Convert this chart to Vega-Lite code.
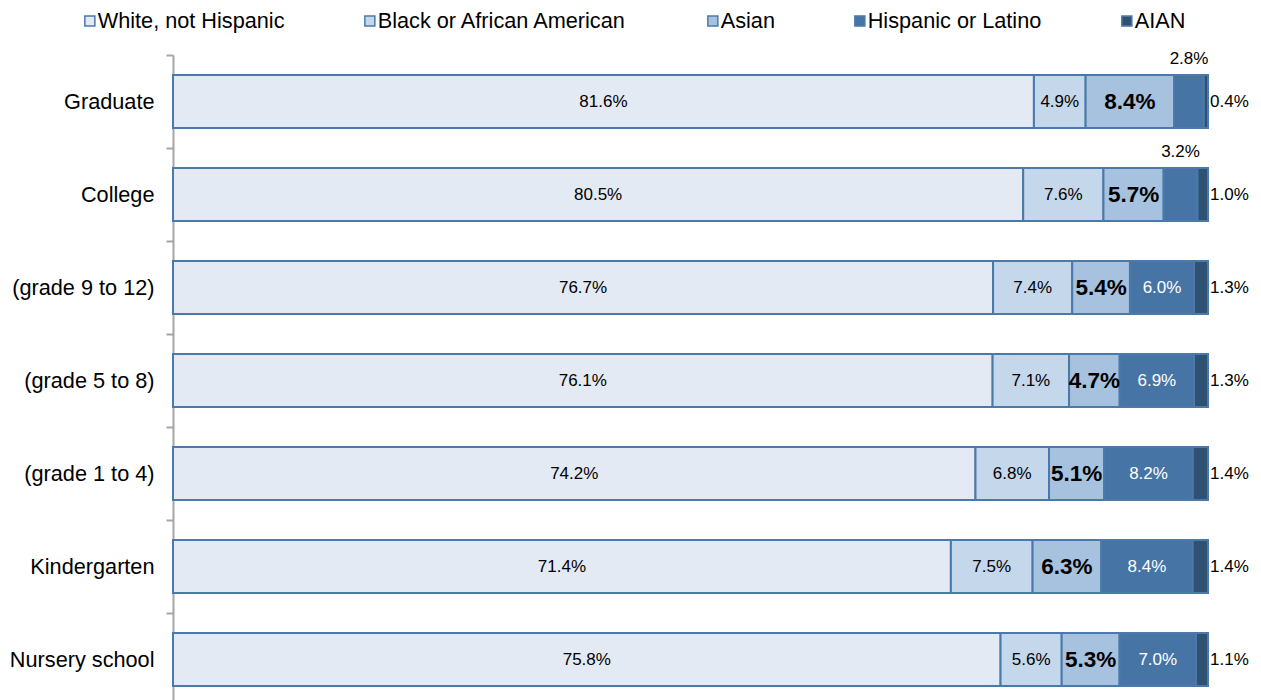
{
  "$schema": "https://vega.github.io/schema/vega-lite/v6.json",
  "autosize": {"type": "none"},
  "padding": {"left": 173, "top": 55, "right": 53, "bottom": 0},
  "width": 1035,
  "height": 645,
  "background": "white",
  "config": {"view": {"stroke": null}, "font": "Liberation Sans"},
  "data": {"values": [
    {"level": "Graduate", "race": "White, not Hispanic", "k": 1, "p": 0.816},
    {"level": "Graduate", "race": "Black or African American", "k": 2, "p": 0.049},
    {"level": "Graduate", "race": "Asian", "k": 3, "p": 0.084},
    {"level": "Graduate", "race": "Hispanic or Latino", "k": 4, "p": 0.028},
    {"level": "Graduate", "race": "AIAN", "k": 5, "p": 0.004},
    {"level": "College", "race": "White, not Hispanic", "k": 1, "p": 0.805},
    {"level": "College", "race": "Black or African American", "k": 2, "p": 0.076},
    {"level": "College", "race": "Asian", "k": 3, "p": 0.057},
    {"level": "College", "race": "Hispanic or Latino", "k": 4, "p": 0.032},
    {"level": "College", "race": "AIAN", "k": 5, "p": 0.010},
    {"level": "(grade 9 to 12)", "race": "White, not Hispanic", "k": 1, "p": 0.767},
    {"level": "(grade 9 to 12)", "race": "Black or African American", "k": 2, "p": 0.074},
    {"level": "(grade 9 to 12)", "race": "Asian", "k": 3, "p": 0.054},
    {"level": "(grade 9 to 12)", "race": "Hispanic or Latino", "k": 4, "p": 0.060},
    {"level": "(grade 9 to 12)", "race": "AIAN", "k": 5, "p": 0.013},
    {"level": "(grade 5 to 8)", "race": "White, not Hispanic", "k": 1, "p": 0.761},
    {"level": "(grade 5 to 8)", "race": "Black or African American", "k": 2, "p": 0.071},
    {"level": "(grade 5 to 8)", "race": "Asian", "k": 3, "p": 0.047},
    {"level": "(grade 5 to 8)", "race": "Hispanic or Latino", "k": 4, "p": 0.069},
    {"level": "(grade 5 to 8)", "race": "AIAN", "k": 5, "p": 0.013},
    {"level": "(grade 1 to 4)", "race": "White, not Hispanic", "k": 1, "p": 0.742},
    {"level": "(grade 1 to 4)", "race": "Black or African American", "k": 2, "p": 0.068},
    {"level": "(grade 1 to 4)", "race": "Asian", "k": 3, "p": 0.051},
    {"level": "(grade 1 to 4)", "race": "Hispanic or Latino", "k": 4, "p": 0.082},
    {"level": "(grade 1 to 4)", "race": "AIAN", "k": 5, "p": 0.014},
    {"level": "Kindergarten", "race": "White, not Hispanic", "k": 1, "p": 0.714},
    {"level": "Kindergarten", "race": "Black or African American", "k": 2, "p": 0.075},
    {"level": "Kindergarten", "race": "Asian", "k": 3, "p": 0.063},
    {"level": "Kindergarten", "race": "Hispanic or Latino", "k": 4, "p": 0.084},
    {"level": "Kindergarten", "race": "AIAN", "k": 5, "p": 0.014},
    {"level": "Nursery school", "race": "White, not Hispanic", "k": 1, "p": 0.758},
    {"level": "Nursery school", "race": "Black or African American", "k": 2, "p": 0.056},
    {"level": "Nursery school", "race": "Asian", "k": 3, "p": 0.053},
    {"level": "Nursery school", "race": "Hispanic or Latino", "k": 4, "p": 0.070},
    {"level": "Nursery school", "race": "AIAN", "k": 5, "p": 0.011}
  ]},
  "encoding": {
    "y": {
      "field": "level", "type": "nominal", "sort": null, "title": null,
      "scale": {"paddingInner": 0, "paddingOuter": 0, "range": [0, 651]},
      "axis": {
        "domainColor": "#A6A6A6", "domainWidth": 2,
        "tickColor": "#A6A6A6", "tickWidth": 2, "tickSize": 7, "tickBand": "extent",
        "labelFontSize": 21.7, "labelColor": "#000000", "labelPadding": 12, "labelFont": "Liberation Sans"
      }
    },
    "x": {"field": "p", "type": "quantitative", "stack": "normalize", "axis": null},
    "order": {"field": "k", "type": "quantitative"}
  },
  "layer": [
    {
      "mark": {"type": "bar", "stroke": "#4A79AA", "strokeWidth": 2, "height": {"band": 0.57}},
      "encoding": {
        "color": {
          "field": "race", "type": "nominal",
          "scale": {
            "domain": ["White, not Hispanic", "Black or African American", "Asian", "Hispanic or Latino", "AIAN"],
            "range": ["#E3EAF4", "#C5D7EA", "#A7C2DE", "#4674A4", "#2F5273"]
          },
          "legend": {
            "orient": "none", "legendX": -94, "legendY": -45, "direction": "horizontal",
            "columns": 5, "columnPadding": 74, "title": null, "padding": 0,
            "symbolType": "square", "symbolSize": 100, "symbolStrokeColor": "#4A79AA", "symbolStrokeWidth": 1.5,
            "labelFontSize": 21.7, "labelFont": "Liberation Sans", "labelColor": "#000000", "labelOffset": -3,
            "labelLimit": 400
          }
        }
      }
    },
    {
      "mark": {"type": "text", "fontSize": 17, "color": "#000000", "baseline": "middle", "align": "center"},
      "encoding": {
        "x": {"field": "p", "type": "quantitative", "stack": "normalize", "bandPosition": 0.5},
        "detail": {"field": "race"},
        "text": {"field": "p", "type": "quantitative", "format": ".1%"},
        "opacity": {"condition": {"test": "datum.k <= 2", "value": 1}, "value": 0}
      }
    },
    {
      "mark": {"type": "text", "fontSize": 22.5, "fontWeight": "bold", "color": "#000000", "baseline": "middle", "align": "center"},
      "encoding": {
        "x": {"field": "p", "type": "quantitative", "stack": "normalize", "bandPosition": 0.5},
        "detail": {"field": "race"},
        "text": {"field": "p", "type": "quantitative", "format": ".1%"},
        "opacity": {"condition": {"test": "datum.k == 3", "value": 1}, "value": 0}
      }
    },
    {
      "mark": {"type": "text", "fontSize": 17, "color": "#FFFFFF", "baseline": "middle", "align": "center"},
      "encoding": {
        "x": {"field": "p", "type": "quantitative", "stack": "normalize", "bandPosition": 0.5},
        "detail": {"field": "race"},
        "text": {"field": "p", "type": "quantitative", "format": ".1%"},
        "opacity": {"condition": {"test": "datum.k == 4 && datum.level != 'Graduate' && datum.level != 'College'", "value": 1}, "value": 0}
      }
    },
    {
      "mark": {"type": "text", "fontSize": 17, "color": "#000000", "baseline": "middle", "align": "center", "dy": -43},
      "encoding": {
        "x": {"field": "p", "type": "quantitative", "stack": "normalize", "bandPosition": 0.5},
        "detail": {"field": "race"},
        "text": {"field": "p", "type": "quantitative", "format": ".1%"},
        "opacity": {"condition": {"test": "datum.k == 4 && (datum.level == 'Graduate' || datum.level == 'College')", "value": 1}, "value": 0}
      }
    },
    {
      "mark": {"type": "text", "fontSize": 17, "color": "#000000", "baseline": "middle", "align": "left", "dx": 2},
      "encoding": {
        "x": {"field": "p", "type": "quantitative", "stack": "normalize"},
        "detail": {"field": "race"},
        "text": {"field": "p", "type": "quantitative", "format": ".1%"},
        "opacity": {"condition": {"test": "datum.k == 5", "value": 1}, "value": 0}
      }
    }
  ]
}
